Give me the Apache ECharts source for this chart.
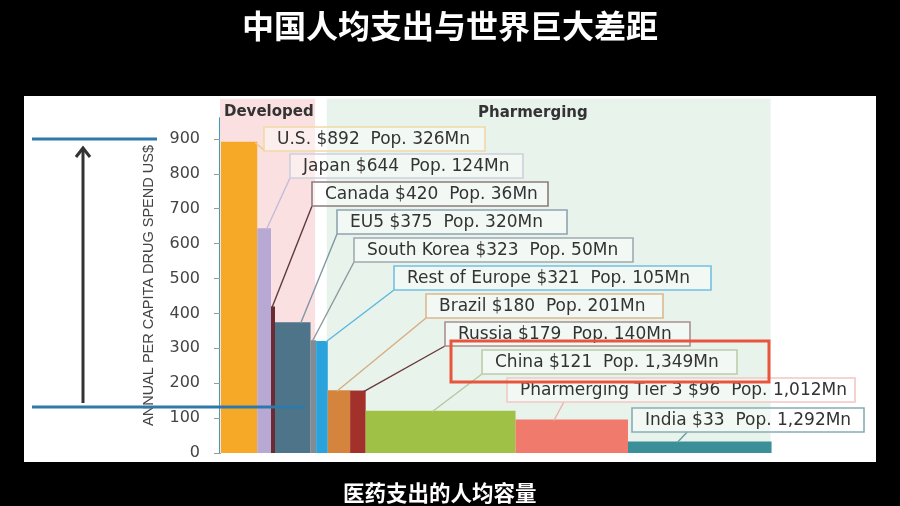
<!DOCTYPE html>
<html><head><meta charset="utf-8">
<script src="https://cdn.jsdelivr.net/npm/echarts@6/dist/echarts.min.js"></script>
<style>html,body{margin:0;padding:0;background:#000;}#c{width:900px;height:506px;}</style>
</head><body><div id="c"></div>
<script>
// ---- data ----
const countries = ['U.S.', 'Japan', 'Canada', 'EU5', 'South Korea', 'Rest of Europe', 'Brazil', 'Russia', 'China', 'Pharmerging Tier 3', 'India'];
const spendPerCapita = [892, 644, 420, 375, 323, 321, 180, 179, 121, 96, 33];
const populationMn = [326, 124, 36, 320, 50, 105, 201, 140, 1349, 1012, 1292];
const marketGroup = ['Developed', 'Developed', 'Developed', 'Developed', 'Developed', '', 'Pharmerging', 'Pharmerging', 'Pharmerging', 'Pharmerging', 'Pharmerging'];
const yTicks = [0, 100, 200, 300, 400, 500, 600, 700, 800, 900];
const titleText = '中国人均支出与世界巨大差距';
const subtitleText = '医药支出的人均容量';
const yAxisName = 'ANNUAL PER CAPITA DRUG SPEND US$';

// ---- styles / layout ----
const barColors = ['#f6a827', '#b8a9d4', '#6a2b33', '#4e7489', '#7f8c94', '#2aa3dd', '#d4843c', '#a2302b', '#9fc145', '#f07a6c', '#3b8f99'];
const boxBorderColors = ['#f1d9a6', '#cfcfdc', '#8c7c7c', '#8fa3ae', '#a0abb0', '#72c0e2', '#dbb88e', '#a89190', '#bccdaa', '#f2c8c3', '#86aeb3'];
const lineColors = ['#e9c98e', '#c2bcd8', '#5d3a3f', '#7f96a3', '#8d989e', '#5bb6df', '#d7ad80', '#6b3a38', '#b7c7a3', '#eeb1aa', '#6d9da3'];
const boxLeft = [264, 290, 312, 337, 354, 394, 426, 445, 482, 507, 632];
const boxTop = [127, 154, 182, 210, 238, 266, 294, 322, 350, 378, 408];
const boxWidth = [221, 233, 236, 230, 279, 317, 237, 245, 255, 348, 232];
const anchorFrac = [1.0, 0.75, 0.5, 0.75, 0.5, 1.0, 0.45, 1.0, 0.45, 0.35, 0.35];
const boxH = 24;
const regionTop = 1015;

function fmtNum(n) { return String(n).replace(/\B(?=(\d{3})+(?!\d))/g, ','); }

// cumulative population widths
const barData = [];
let acc = 0;
for (let i = 0; i < countries.length; i++) {
  barData.push([acc, acc + populationMn[i], spendPerCapita[i], i]);
  acc += populationMn[i];
}
// market regions from group membership
const regionData = [];
['Developed', 'Pharmerging'].forEach(function (g) {
  const idx = marketGroup.map(function (m, i) { return m === g ? i : -1; }).filter(function (i) { return i >= 0; });
  regionData.push([barData[idx[0]][0], barData[idx[idx.length - 1]][1], g === 'Developed' ? 0 : 1]);
});
const regionFill = ['#fbe0e1', '#e8f3ec'];

const chart = echarts.init(document.getElementById('c'), null, { renderer: 'canvas' });

function renderRegion(params, api) {
  const p0 = api.coord([api.value(0), regionTop]);
  const p1 = api.coord([api.value(1), 0]);
  return { type: 'rect', shape: { x: p0[0], y: p0[1], width: p1[0] - p0[0], height: p1[1] - p0[1] },
    style: { fill: regionFill[api.value(2)] } };
}

function renderBar(params, api) {
  const i = params.dataIndex;
  const p0 = api.coord([api.value(0), api.value(2)]);
  const p1 = api.coord([api.value(1), 0]);
  const w = p1[0] - p0[0];
  const ax = p0[0] + w * anchorFrac[i] - (anchorFrac[i] === 1 ? 1 : 0);
  const ay = p0[1] + 1;
  const by = boxTop[i] + boxH;
  const bx = Math.max(boxLeft[i], ax + 10);
  const label = countries[i] + ' $' + spendPerCapita[i] + '  Pop. ' + fmtNum(populationMn[i]) + 'Mn';
  return {
    type: 'group',
    children: [
      { type: 'rect', shape: { x: p0[0] + 1, y: p0[1], width: w, height: p1[1] - p0[1] }, style: { fill: barColors[i] } },
      { type: 'line', shape: { x1: bx, y1: by, x2: ax, y2: ay }, style: { stroke: lineColors[i], lineWidth: 1.4 } },
      { type: 'rect', shape: { x: boxLeft[i], y: boxTop[i], width: boxWidth[i], height: boxH },
        style: { fill: 'rgba(255,255,255,0.45)', stroke: boxBorderColors[i], lineWidth: 1.6 } },
      { type: 'text', style: { x: boxLeft[i] + 13, y: boxTop[i] + boxH / 2 + 1, text: label,
        font: '17px "DejaVu Sans", Verdana, sans-serif', fill: '#333', align: 'left', verticalAlign: 'middle' } }
    ]
  };
}

const option = {
  backgroundColor: '#000',
  animation: false,
  title: [
    { text: titleText, left: 'center', top: 5,
      textStyle: { color: '#fff', fontSize: 32, fontWeight: 'bold', fontFamily: '"Noto Sans CJK SC", sans-serif' } },
    { text: subtitleText, left: 338, top: 477,
      textStyle: { color: '#fff', fontSize: 21.5, fontWeight: 'bold', fontFamily: '"Noto Sans CJK SC", sans-serif' } }
  ],
  grid: { left: 220, right: 80, top: 118, bottom: 53, containLabel: false, outerBoundsMode: 'none' },
  xAxis: { type: 'value', min: 0, max: 5400, show: false },
  yAxis: {
    type: 'value', min: 0, max: 960, interval: 100,
    name: yAxisName, nameLocation: 'middle', nameRotate: 90, nameGap: 64,
    nameTextStyle: { fontFamily: '"Liberation Sans", Arial, sans-serif', fontSize: 14.5, color: '#444', padding: [0, 0, 0, 0] },
    axisLine: { show: true, lineStyle: { color: '#3d9cc0', width: 2 } },
    axisTick: { show: true, length: 6, customValues: yTicks, lineStyle: { color: '#999' } },
    axisLabel: { customValues: yTicks, margin: 20, fontSize: 16, fontFamily: '"DejaVu Sans", Verdana, sans-serif', color: '#444' },
    splitLine: { show: false }
  },
  graphic: [
    { type: 'rect', z: -10, shape: { x: 24, y: 96, width: 852, height: 366 }, style: { fill: '#ffffff' } },
    { type: 'text', z: 50, style: { x: 224, y: 112, text: 'Developed', font: 'bold 15px "DejaVu Sans", Verdana, sans-serif', fill: '#333', verticalAlign: 'middle' } },
    { type: 'text', z: 50, style: { x: 478, y: 113, text: 'Pharmerging', font: 'bold 15px "DejaVu Sans", Verdana, sans-serif', fill: '#333', verticalAlign: 'middle' } },
    { type: 'line', z: 100, shape: { x1: 32, y1: 139, x2: 157, y2: 139 }, style: { stroke: '#2f78aa', lineWidth: 3 } },
    { type: 'line', z: 100, shape: { x1: 32, y1: 407, x2: 305, y2: 407 }, style: { stroke: '#2f78aa', lineWidth: 3 } },
    { type: 'line', z: 100, shape: { x1: 83, y1: 403, x2: 83, y2: 150 }, style: { stroke: '#333', lineWidth: 3 } },
    { type: 'polyline', z: 100, shape: { points: [[76, 157], [83, 148], [90, 157]] }, style: { stroke: '#333', lineWidth: 3, fill: null } },
    { type: 'rect', z: 100, shape: { x: 451, y: 341, width: 318, height: 41 }, style: { fill: null, stroke: '#e8553d', lineWidth: 3 } }
  ],
  series: [
    { type: 'custom', name: 'regions', renderItem: renderRegion, data: regionData, clip: false, z: 1,
      encode: { x: [0, 1], y: 2 }, silent: true },
    { type: 'custom', name: 'spend', renderItem: renderBar, data: barData, clip: false, z: 5,
      encode: { x: [0, 1], y: 2 } }
  ]
};
chart.setOption(option);
</script>
</body></html>
